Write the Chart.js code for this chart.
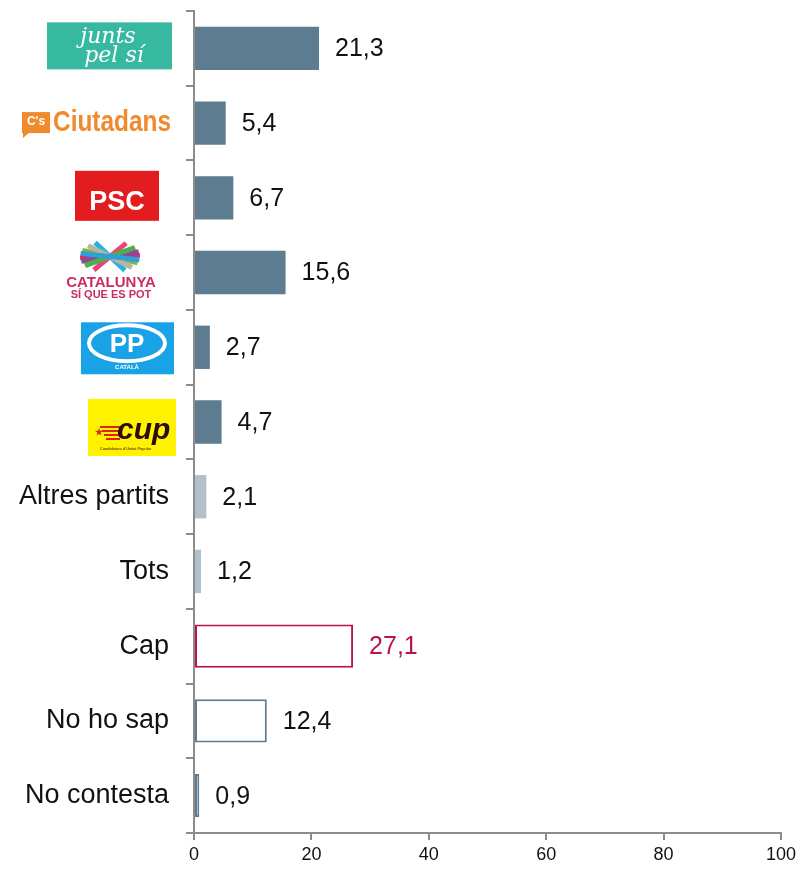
<!DOCTYPE html>
<html>
<head>
<meta charset="utf-8">
<script src="https://cdn.jsdelivr.net/npm/chart.js@4"></script>
<style>
  body { margin: 0; background: #fff; }
  #wrap { width: 800px; height: 869px; }
</style>
</head>
<body>
<div id="wrap"><canvas id="chart" width="800" height="869"></canvas></div>
<script>
// categories, top to bottom (the first six are drawn as party logos)
const categories = ['Junts pel Sí', 'Ciutadans', 'PSC', 'Catalunya Sí que es Pot', 'PP', 'CUP',
    'Altres partits', 'Tots', 'Cap', 'No ho sap', 'No contesta'];
const logoCount = 6;
const values = [21.3, 5.4, 6.7, 15.6, 2.7, 4.7, 2.1, 1.2, 27.1, 12.4, 0.9];
const xTicks = [0, 20, 40, 60, 80, 100];

const dark = '#5d7c8f';
const light = '#b0c1cc';
const crimson = '#b9144a';

const fills = [dark, dark, dark, dark, dark, dark, light, light, '#ffffff', '#ffffff', '#ffffff'];
const borders = [dark, dark, dark, dark, dark, dark, light, light, crimson, dark, dark];
const borderWidths = [0, 0, 0, 0, 0, 0, 0, 0, 2, 2, 2];

// value labels at the end of each bar
const valueLabels = {
    id: 'valueLabels',
    afterDatasetsDraw(chart) {
        const ctx = chart.ctx;
        const meta = chart.getDatasetMeta(0);
        ctx.save();
        ctx.font = '25px "Liberation Sans", Arial, sans-serif';
        ctx.textBaseline = 'middle';
        ctx.textAlign = 'left';
        meta.data.forEach((bar, i) => {
            ctx.fillStyle = i === 8 ? crimson : '#111';
            ctx.fillText(values[i].toFixed(1).replace('.', ','), bar.x + 16, bar.y + 1);
        });
        ctx.restore();
    }
};

// party logos in place of the first y labels
const partyLogos = {
    id: 'partyLogos',
    afterDraw(chart) {
        const ctx = chart.ctx;
        const y = chart.scales.y;
        const cy = i => y.getPixelForValue(i);
        const sans = '"Liberation Sans", Arial, sans-serif';
        ctx.save();
        ctx.textAlign = 'center';
        ctx.textBaseline = 'middle';

        // Junts pel Sí
        let c = cy(0);
        ctx.fillStyle = '#37b9a1';
        ctx.fillRect(47, c - 26, 125, 47);
        ctx.fillStyle = '#fff';
        ctx.font = 'italic 22px "DejaVu Serif", serif';
        ctx.fillText('junts', 108, c - 11);
        ctx.fillText('pel sí', 114, c + 8);

        // Ciutadans
        c = cy(1);
        ctx.fillStyle = '#f08a2d';
        ctx.fillRect(22, c - 11, 28, 21);
        ctx.beginPath();
        ctx.moveTo(23, c + 9); ctx.lineTo(23, c + 15); ctx.lineTo(30, c + 9);
        ctx.fill();
        ctx.fillStyle = '#fff';
        ctx.font = 'bold 12px ' + sans;
        ctx.fillText("C's", 36, c - 1);
        ctx.fillStyle = '#f08a2d';
        ctx.textAlign = 'left';
        ctx.font = 'bold 30px "Liberation Sans Narrow", ' + sans;
        ctx.fillText('Ciutadans', 53, c, 118);
        ctx.textAlign = 'center';

        // PSC
        c = cy(2);
        ctx.fillStyle = '#e31d1f';
        ctx.fillRect(75, c - 27, 84, 50);
        ctx.fillStyle = '#fff';
        ctx.font = 'bold 27px ' + sans;
        ctx.fillText('PSC', 117, c + 5);

        // Catalunya Sí que es Pot
        c = cy(3);
        const rays = [['#cf2f63', 0.08], ['#7ab648', -0.4], ['#f6d51b', 0.55], ['#2ab0e3', -1.05],
            ['#8b4a9c', 0.3], ['#b5b5a0', -0.75], ['#e8457c', 1.0], ['#4caf50', 0.6], ['#2e9fd8', -0.2]];
        ctx.lineWidth = 5;
        rays.forEach(([col, a]) => {
            ctx.strokeStyle = col;
            ctx.beginPath();
            ctx.moveTo(110 - Math.cos(a) * 30, c - 16 + Math.sin(a) * 16);
            ctx.lineTo(110 + Math.cos(a) * 30, c - 16 - Math.sin(a) * 16);
            ctx.stroke();
        });
        ctx.fillStyle = '#c92e5e';
        ctx.font = 'bold 15px ' + sans;
        ctx.fillText('CATALUNYA', 111, c + 10, 132);
        ctx.font = 'bold 11px ' + sans;
        ctx.fillText('SÍ QUE ES POT', 111, c + 22, 134);

        // PP
        c = cy(4);
        ctx.fillStyle = '#1aa2e6';
        ctx.fillRect(81, c - 25, 93, 52);
        ctx.strokeStyle = '#fff';
        ctx.lineWidth = 4;
        ctx.beginPath();
        ctx.ellipse(127, c - 4, 38, 18, 0, 0, Math.PI * 2);
        ctx.stroke();
        ctx.fillStyle = '#fff';
        ctx.font = 'bold 26px ' + sans;
        ctx.fillText('PP', 127, c - 2);
        ctx.font = 'bold 6px ' + sans;
        ctx.fillText('CATALÀ', 127, c + 20);

        // CUP
        c = cy(5);
        ctx.fillStyle = '#fff200';
        ctx.fillRect(88, c - 23, 88, 57);
        ctx.fillStyle = '#d62718';
        for (let k = 0; k < 4; k++) ctx.fillRect(100 + k * 2, c + 4 + k * 4, 20 - k * 2, 2);
        ctx.font = 'bold 9px ' + sans;
        ctx.fillText('★', 99, c + 11);
        ctx.fillStyle = '#2a0d0d';
        ctx.font = 'bold italic 30px ' + sans;
        ctx.textAlign = 'left';
        ctx.fillText('cup', 117, c + 9);
        ctx.font = '4px ' + sans;
        ctx.fillText("Candidatura d'Unitat Popular", 100, c + 27);
        ctx.restore();
    }
};

new Chart(document.getElementById('chart'), {
    type: 'bar',
    data: {
        labels: categories,
        datasets: [{
            data: values,
            backgroundColor: fills,
            borderColor: borders,
            borderWidth: borderWidths,
            borderSkipped: false,
            categoryPercentage: 1,
            barPercentage: 0.58
        }]
    },
    options: {
        indexAxis: 'y',
        responsive: false,
        animation: false,
        layout: { padding: { top: 11, right: 19, left: 0, bottom: 0 } },
        plugins: {
            legend: { display: false },
            tooltip: { enabled: false }
        },
        scales: {
            y: {
                afterFit(scale) {
                    scale.width = 194;
                    scale.paddingTop = 0;
                    scale.paddingBottom = 0;
                },
                grid: { drawOnChartArea: false, tickLength: 8, color: '#8c8c8c', lineWidth: 2, offset: true },
                border: { color: '#8c8c8c', width: 2 },
                ticks: {
                    padding: 17,
                    color: '#111',
                    font: { family: '"Liberation Sans", Arial, sans-serif', size: 27 },
                    callback: (v, i) => i < logoCount ? '' : categories[i]
                }
            },
            x: {
                min: 0,
                max: 100,
                afterFit(scale) { scale.height = 36; },
                afterBuildTicks(scale) { scale.ticks = xTicks.map(v => ({ value: v })); },
                grid: { drawOnChartArea: false, tickLength: 7, color: '#8c8c8c', lineWidth: 2 },
                border: { color: '#8c8c8c', width: 2 },
                ticks: {
                    color: '#111',
                    padding: 4,
                    maxRotation: 0,
                    font: { family: '"Liberation Sans", Arial, sans-serif', size: 18 }
                }
            }
        }
    },
    plugins: [valueLabels, partyLogos]
});
</script>
</body>
</html>
